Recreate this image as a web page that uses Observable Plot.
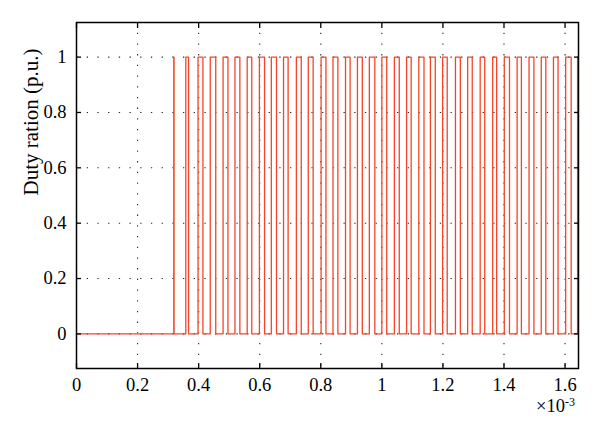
<!DOCTYPE html>
<html><head><meta charset="utf-8">
<script src="https://cdn.jsdelivr.net/npm/d3@7"></script>
<script src="https://cdn.jsdelivr.net/npm/@observablehq/plot@0.6"></script>
<style>
body{margin:0;background:#fff;}
#chart{position:relative;width:600px;height:433px;font-family:"Liberation Serif","DejaVu Serif",serif;}
#exp{position:absolute;left:536px;top:397px;font-size:18.5px;line-height:18px;color:#000;}
#exp sup{font-size:12px;vertical-align:6px;line-height:0;}
</style></head><body><div id="chart"><div id="exp">×10<sup>-3</sup></div></div>
<script>
// time in units of 1e-3 s
const riseTimes = [0.3185, 0.358, 0.398, 0.438, 0.480, 0.519, 0.559, 0.599, 0.638, 0.678, 0.720, 0.759, 0.801, 0.840, 0.881, 0.920, 0.959, 1.000, 1.041, 1.081, 1.121, 1.159, 1.199, 1.241, 1.281, 1.322, 1.363, 1.401, 1.443, 1.482, 1.522, 1.562, 1.602, 1.641];
const fallTimes = [0.3195, 0.367, 0.414, 0.456, 0.496, 0.535, 0.574, 0.616, 0.655, 0.693, 0.736, 0.775, 0.817, 0.856, 0.896, 0.936, 0.977, 1.016, 1.057, 1.096, 1.138, 1.175, 1.214, 1.257, 1.296, 1.337, 1.376, 1.418, 1.457, 1.498, 1.537, 1.577, 1.620];
const lowLevel = 0, highLevel = 1;
const xTicks = [0, 0.2, 0.4, 0.6, 0.8, 1, 1.2, 1.4, 1.6];
const yTicks = [0, 0.2, 0.4, 0.6, 0.8, 1];
const xDomain = [0, 1.644];
const yDomain = [-0.125, 1.125];
const yLabel = ["Duty ration (p.u.)"];

const pts = [{t: xDomain[0], d: lowLevel}];
riseTimes.forEach((r, i) => {
  pts.push({t: r, d: lowLevel}, {t: r, d: highLevel});
  const f = fallTimes[i];
  if (f !== undefined) pts.push({t: f, d: highLevel}, {t: f, d: lowLevel});
  else pts.push({t: xDomain[1], d: highLevel});
});

const fmt = d => d3.format("~g")(d);
const dots = "1.3,9.4";

const plot = Plot.plot({
  width: 600, height: 433,
  marginLeft: 76, marginRight: 22, marginTop: 22, marginBottom: 65,
  style: {fontFamily: '"Liberation Serif","DejaVu Serif",serif', fontSize: "18.5px", color: "#000", background: "#fff"},
  x: {domain: xDomain},
  y: {domain: yDomain},
  marks: [
    Plot.gridX(xTicks.filter(d => d > 0), {stroke: "#111", strokeOpacity: 0.9, strokeDasharray: dots, strokeWidth: 1.1}),
    Plot.gridY(yTicks, {stroke: "#111", strokeOpacity: 0.9, strokeDasharray: dots, strokeWidth: 1.1}),
    Plot.line(pts, {x: "t", y: "d", stroke: "#f4452a", strokeWidth: 1.3, clip: true}),
    Plot.frame({stroke: "#000", strokeWidth: 1.5}),
    Plot.axisX(xTicks, {anchor: "bottom", tickSize: -5, tickPadding: 14, tickFormat: fmt, label: null, fontSize: 18.5, strokeWidth: 1.3}),
    Plot.axisX(xTicks, {anchor: "top", tickSize: -5, tickFormat: () => "", label: null, strokeWidth: 1.3}),
    Plot.axisY(yTicks, {anchor: "left", tickSize: -5, tickPadding: 15, tickFormat: fmt, fontSize: 18.5, strokeWidth: 1.3, label: null}),
    Plot.axisY(yTicks, {anchor: "right", tickSize: -5, tickFormat: () => "", label: null, strokeWidth: 1.3}),
    Plot.text(yLabel, {text: d => d, frameAnchor: "left", rotate: -90, dx: -45, fontSize: 21, fill: "#000"})
  ]
});
document.getElementById("chart").prepend(plot);
</script>
</body></html>
